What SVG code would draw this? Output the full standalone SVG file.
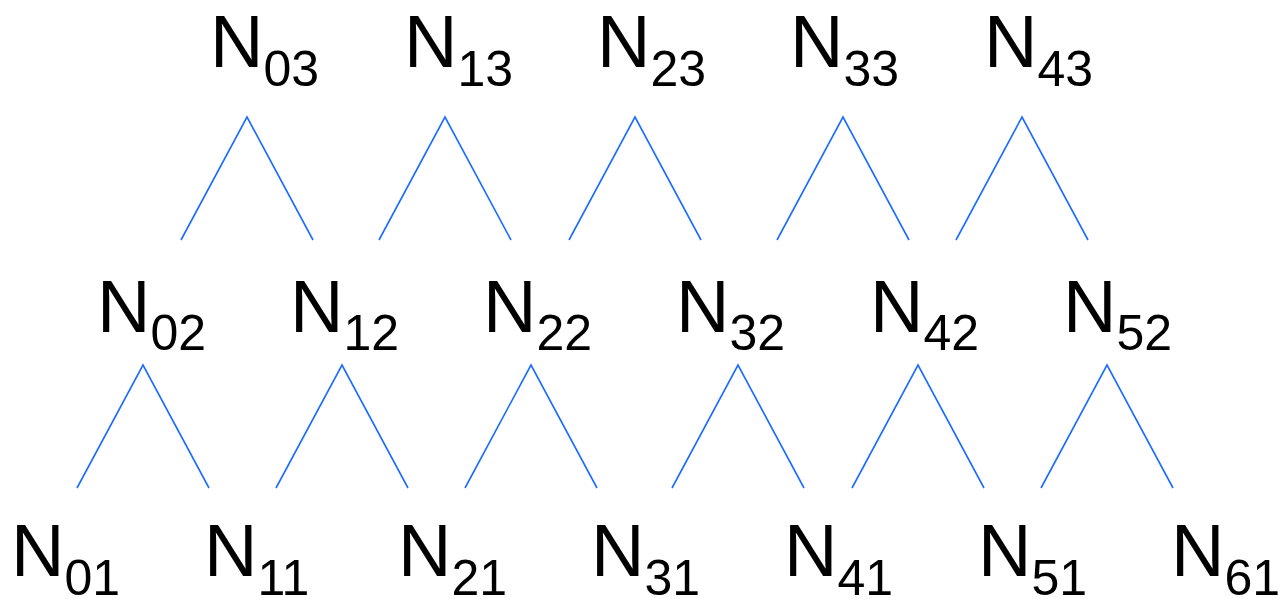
<svg xmlns="http://www.w3.org/2000/svg" width="1281" height="599" viewBox="0 0 1281 599">
<style>
.lbl{font-family:"Liberation Sans",Arial,sans-serif;font-size:74px;fill:#000}
.sub{font-size:50px}
.edge{stroke:#1a6dff;stroke-width:1.6;fill:none}
</style>
<rect width="1281" height="599" fill="#fff"/>
<g id="connectors">
<polyline class="edge" points="181,240 247,117 313,240"/>
<polyline class="edge" points="379,240 445,117 511,240"/>
<polyline class="edge" points="569,240 635,117 701,240"/>
<polyline class="edge" points="777,240 843,117 909,240"/>
<polyline class="edge" points="956,240 1022,117 1088,240"/>
<polyline class="edge" points="77,488 143,365 209,488"/>
<polyline class="edge" points="276,488 342,365 408,488"/>
<polyline class="edge" points="465,488 531,365 597,488"/>
<polyline class="edge" points="672,488 738,365 804,488"/>
<polyline class="edge" points="852,488 918,365 984,488"/>
<polyline class="edge" points="1041,488 1107,365 1173,488"/>
</g>
<g id="N03"><text class="lbl" x="210" y="67">N<tspan class="sub" dy="19">03</tspan></text></g>
<g id="N13"><text class="lbl" x="404" y="67">N<tspan class="sub" dy="19">13</tspan></text></g>
<g id="N23"><text class="lbl" x="597" y="67">N<tspan class="sub" dy="19">23</tspan></text></g>
<g id="N33"><text class="lbl" x="790" y="67">N<tspan class="sub" dy="19">33</tspan></text></g>
<g id="N43"><text class="lbl" x="984" y="67">N<tspan class="sub" dy="19">43</tspan></text></g>
<g id="N02"><text class="lbl" x="97" y="332">N<tspan class="sub" dy="18">02</tspan></text></g>
<g id="N12"><text class="lbl" x="290" y="332">N<tspan class="sub" dy="18">12</tspan></text></g>
<g id="N22"><text class="lbl" x="483" y="332">N<tspan class="sub" dy="18">22</tspan></text></g>
<g id="N32"><text class="lbl" x="676" y="332">N<tspan class="sub" dy="18">32</tspan></text></g>
<g id="N42"><text class="lbl" x="870" y="332">N<tspan class="sub" dy="18">42</tspan></text></g>
<g id="N52"><text class="lbl" x="1063" y="332">N<tspan class="sub" dy="18">52</tspan></text></g>
<g id="N01"><text class="lbl" x="11" y="576">N<tspan class="sub" dy="19">01</tspan></text></g>
<g id="N11"><text class="lbl" x="204" y="576">N<tspan class="sub" dy="19">11</tspan></text></g>
<g id="N21"><text class="lbl" x="398" y="576">N<tspan class="sub" dy="19">21</tspan></text></g>
<g id="N31"><text class="lbl" x="591" y="576">N<tspan class="sub" dy="19">31</tspan></text></g>
<g id="N41"><text class="lbl" x="784" y="576">N<tspan class="sub" dy="19">41</tspan></text></g>
<g id="N51"><text class="lbl" x="978" y="576">N<tspan class="sub" dy="19">51</tspan></text></g>
<g id="N61"><text class="lbl" x="1171" y="576">N<tspan class="sub" dy="19">61</tspan></text></g>
</svg>
